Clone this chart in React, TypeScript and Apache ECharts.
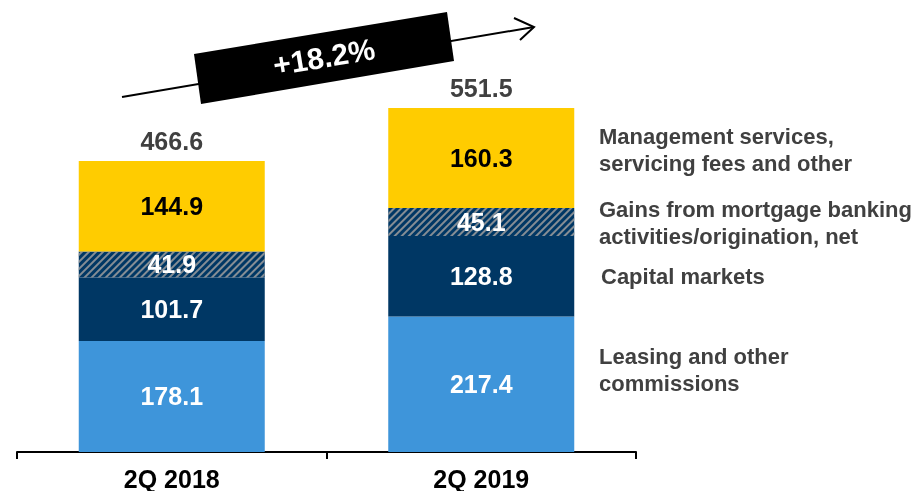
import React, { useEffect, useRef } from "react";
import * as echarts from "echarts";

const categories = ["2Q 2018", "2Q 2019"];
const leasing = [178.1, 217.4];
const capitalMarkets = [101.7, 128.8];
const mortgageGains = [41.9, 45.1];
const managementServices = [144.9, 160.3];
const totals = [466.6, 551.5];
const growthLabel = "+18.2%";
const legendLabels = [
  "Management services,\nservicing fees and other",
  "Gains from mortgage banking\nactivities/origination, net",
  "Capital markets",
  "Leasing and other\ncommissions",
];

const FONT = "'Liberation Sans', Arial, sans-serif";

export default function App() {
  const ref = useRef<HTMLDivElement>(null);
  useEffect(() => {
    if (!ref.current) return;
    const chart = echarts.init(ref.current, null, { renderer: "svg" });
    const segLabel = (color: string) => ({
      show: true,
      position: "inside",
      color,
      fontFamily: FONT,
      fontWeight: "bold",
      fontSize: 25,
      formatter: (p: any) => p.value.toFixed(1),
    });
    const barW = 186;
    chart.setOption({
      animation: false,
      grid: { left: 17, right: 288, top: 15.5, bottom: 31 },
      xAxis: {
        type: "category",
        data: categories,
        axisLine: { show: true, lineStyle: { color: "#000", width: 2 } },
        axisTick: { show: true, length: 7, lineStyle: { color: "#000", width: 2 } },
        axisLabel: {
          color: "#000",
          fontFamily: FONT,
          fontWeight: "bold",
          fontSize: 25,
          margin: 14,
        },
      },
      yAxis: { type: "value", min: 0, max: 700, show: false, splitLine: { show: false } },
      series: [
        {
          name: "Leasing",
          type: "bar",
          stack: "t",
          barWidth: barW,
          data: leasing,
          itemStyle: { color: "#3E95DA" },
          label: segLabel("#fff"),
        },
        {
          name: "Capital markets",
          type: "bar",
          stack: "t",
          barWidth: barW,
          data: capitalMarkets,
          itemStyle: { color: "#003764" },
          label: segLabel("#fff"),
        },
        {
          name: "Mortgage",
          type: "bar",
          stack: "t",
          barWidth: barW,
          data: mortgageGains,
          itemStyle: {
            color: "#003764",
            decal: {
              symbol: "rect",
              symbolSize: 1,
              color: "rgba(140,145,150,0.95)",
              dashArrayX: [1, 0],
              dashArrayY: [2, 3],
              rotation: -Math.PI / 4,
            },
          },
          label: segLabel("#fff"),
        },
        {
          name: "Management",
          type: "bar",
          stack: "t",
          barWidth: barW,
          data: managementServices,
          itemStyle: { color: "#FFCC00" },
          label: segLabel("#000"),
        },
        {
          name: "Total",
          type: "bar",
          stack: "t",
          barWidth: barW,
          data: totals.map(() => 0),
          itemStyle: { color: "transparent" },
          label: {
            show: true,
            position: "top",
            distance: 8,
            color: "#404040",
            fontFamily: FONT,
            fontWeight: "bold",
            fontSize: 25,
            formatter: (p: any) => totals[p.dataIndex].toFixed(1),
          },
        },
      ],
      graphic: [
        {
          type: "line",
          shape: { x1: 122, y1: 97, x2: 534, y2: 27 },
          style: { stroke: "#000", lineWidth: 2 },
        },
        {
          type: "polyline",
          shape: { points: [[514, 18], [534, 27], [520, 40]] },
          style: { stroke: "#000", lineWidth: 2, fill: null },
        },
        {
          type: "polygon",
          shape: { points: [[194, 54], [447, 12], [454, 61], [201, 104]] },
          style: { fill: "#000" },
        },
        {
          type: "text",
          x: 324,
          y: 57,
          rotation: 0.164,
          style: {
            text: growthLabel,
            fill: "#fff",
            font: `bold 30px ${FONT}`,
            align: "center",
            verticalAlign: "middle",
          },
        },
        ...legendLabels.map((t, i) => ({
          type: "text",
          x: i === 2 ? 601 : 599,
          y: [150, 222.5, 276, 369.5][i],
          style: {
            text: t,
            fill: "#404040",
            font: `bold 22px ${FONT}`,
            lineHeight: 27,
            align: "left",
            verticalAlign: "middle",
          },
        })),
      ],
    });
    return () => chart.dispose();
  }, []);
  return (
    <div
      ref={ref}
      style={{ position: "fixed", left: 0, top: 0, width: 924, height: 491 }}
    />
  );
}
